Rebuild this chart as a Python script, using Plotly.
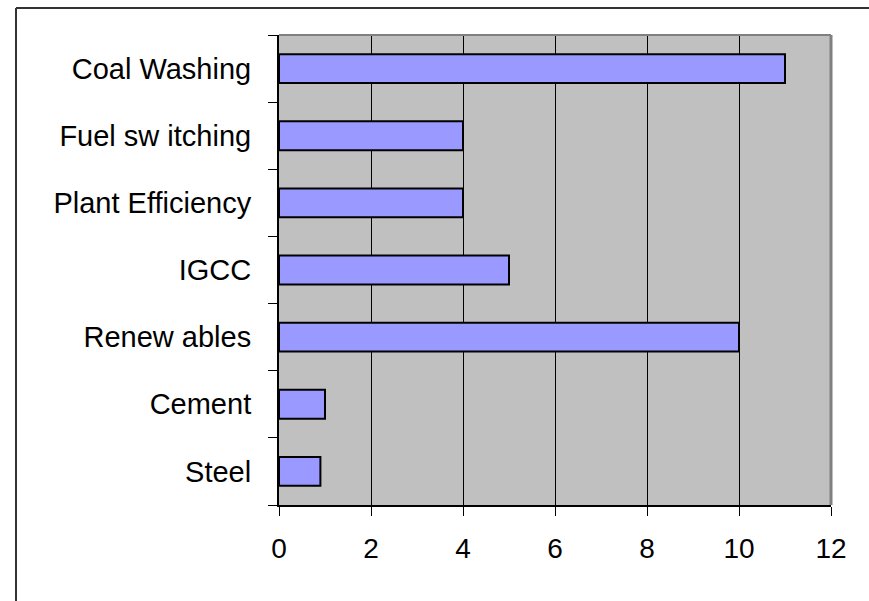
import plotly.graph_objects as go

categories = ["Coal Washing", "Fuel sw itching", "Plant Efficiency", "IGCC",
              "Renew ables", "Cement", "Steel"]
values = [11, 4, 4, 5, 10, 1, 0.9]
x_ticks = [0, 2, 4, 6, 8, 10, 12]

W, H = 869, 601
ML, MR, MT, MB = 279, 38, 35, 96
PW, PH = W - ML - MR, H - MT - MB


def px_x(p):
    return (p - ML) / PW


def px_y(p):
    return (H - MB - p) / PH


fig = go.Figure(go.Bar(
    y=categories, x=values, orientation="h",
    marker=dict(color="#9999FF", line=dict(color="black", width=2)),
))

fig.update_layout(
    width=W, height=H,
    margin=dict(l=ML, r=MR, t=MT, b=MB, pad=0),
    paper_bgcolor="white", plot_bgcolor="#C0C0C0",
    bargap=0.57, showlegend=False,
    font=dict(family="Liberation Sans, Arial, sans-serif", size=28, color="black"),
    xaxis=dict(range=[0, 12], tickvals=x_ticks, showgrid=True, gridcolor="black",
               gridwidth=1, zeroline=False, showline=True, linecolor="black",
               linewidth=2, ticks="outside", ticklen=9, tickcolor="black",
               tickfont=dict(size=28), ticklabelstandoff=8),
    yaxis=dict(categoryorder="array", categoryarray=categories[::-1],
               showgrid=False, showline=True, linecolor="black", linewidth=2,
               ticks="outside", ticklen=9, tickcolor="black", tickson="boundaries",
               tickfont=dict(size=29), ticklabelstandoff=20),
    shapes=[
        dict(type="line", xref="paper", yref="paper", x0=0, x1=1, y0=1, y1=1,
             line=dict(color="#808080", width=2), layer="above"),
        dict(type="line", xref="paper", yref="paper", x0=1, x1=1, y0=0, y1=1,
             line=dict(color="#808080", width=3), layer="above"),
        dict(type="line", xref="paper", yref="paper", x0=px_x(16), x1=px_x(16),
             y0=px_y(8), y1=px_y(H + 5), line=dict(color="#333333", width=2)),
        dict(type="line", xref="paper", yref="paper", x0=px_x(16), x1=px_x(W + 5),
             y0=px_y(8), y1=px_y(8), line=dict(color="#333333", width=2)),
    ],
)

fig.write_html("out.html")
